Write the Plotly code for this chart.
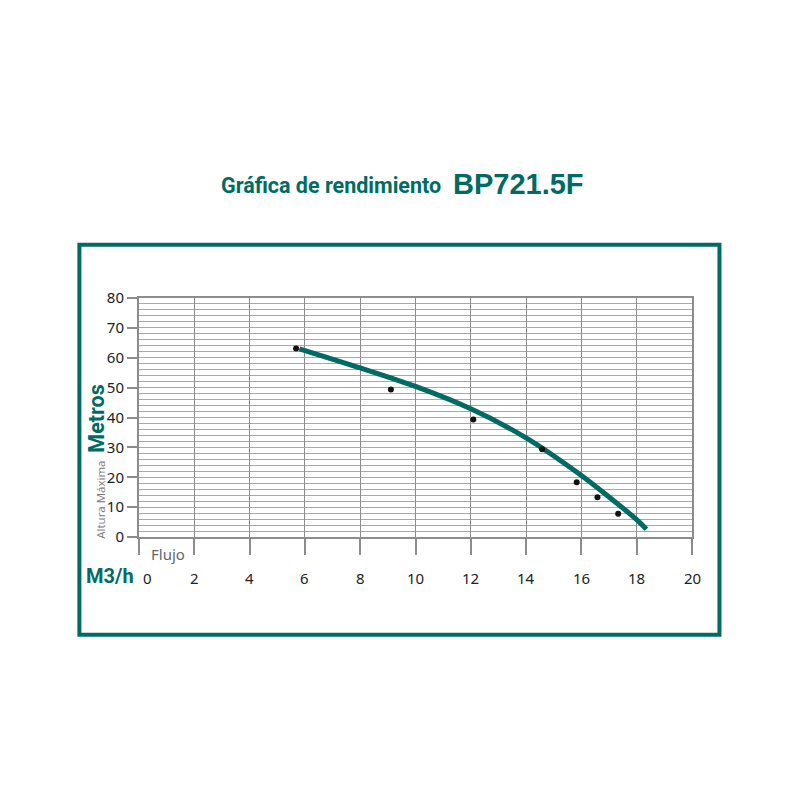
import plotly.graph_objects as go

# ---- data ----
curve_flow = [5.8, 8, 10, 12, 14, 16, 17, 18, 18.35]
curve_head = [63, 56.6, 50.4, 42.9, 33.2, 20.6, 13.4, 5.8, 2.6]
pt_flow = [5.68, 9.11, 12.09, 14.58, 15.83, 16.58, 17.33]
pt_head = [63.1, 49.4, 39.3, 29.4, 18.3, 13.3, 7.8]
x_ticks = [0, 2, 4, 6, 8, 10, 12, 14, 16, 18, 20]
y_ticks = [0, 10, 20, 30, 40, 50, 60, 70, 80]

TEAL = "#006b63"
GRID = "#a8a8a8"
AXIS = "#8c8c8c"
OFF = 8  # page body margin
W, H = 784, 784
L, R, T, B = 138.7 - OFF, 692.5 - OFF, 297.7 - OFF, 536.7 - OFF


def px(x):
    return (x - OFF - L) / (R - L)


def py(y):
    return (B - (y - OFF)) / (B - T)


fig = go.Figure()
fig.add_trace(go.Scatter(x=curve_flow, y=curve_head, mode="lines",
                         line=dict(color=TEAL, width=5, shape="spline", smoothing=0.8),
                         hoverinfo="skip", showlegend=False))
fig.add_trace(go.Scatter(x=pt_flow, y=pt_head, mode="markers",
                         marker=dict(color="#111111", size=6),
                         showlegend=False))

ann = []
# title
ann.append(dict(text="<b>Gráfica de rendimiento</b>", x=px(443), y=py(185), xref="paper", yref="paper",
                xanchor="right", yanchor="middle", showarrow=False,
                font=dict(family="Roboto, sans-serif", size=21.5, color=TEAL)))
ann.append(dict(text="<b>BP721.5F</b>", x=px(451), y=py(184), xref="paper", yref="paper",
                xanchor="left", yanchor="middle", showarrow=False,
                font=dict(family="Liberation Sans, Arial, sans-serif", size=29, color=TEAL)))
# axis labels
ann.append(dict(text="<b>Metros</b>", x=px(96), y=py(418), xref="paper", yref="paper",
                textangle=-90, showarrow=False, xanchor="center", yanchor="middle",
                font=dict(family="Roboto, sans-serif", size=21.5, color=TEAL)))
ann.append(dict(text="Altura Máxima", x=px(100), y=py(499), xref="paper", yref="paper",
                textangle=-90, showarrow=False, xanchor="center", yanchor="middle",
                font=dict(family="Open Sans, sans-serif", size=11.5, color="#777777")))
ann.append(dict(text="Flujo", x=px(168), y=py(554), xref="paper", yref="paper",
                showarrow=False, xanchor="center", yanchor="middle",
                font=dict(family="Noto Sans, sans-serif", size=15, color="#666666")))
ann.append(dict(text="<b>M3/h</b>", x=px(110), y=py(576), xref="paper", yref="paper",
                showarrow=False, xanchor="center", yanchor="middle",
                font=dict(family="Roboto, sans-serif", size=20, color=TEAL)))
for v in x_ticks:
    ann.append(dict(text=str(v), x=v, xref="x", y=py(578), yref="paper",
                    xshift=8 if v == 0 else 0, showarrow=False,
                    xanchor="center", yanchor="middle",
                    font=dict(family="Noto Sans, sans-serif", size=15, color="#222222")))

fig.update_layout(
    width=W, height=H,
    margin=dict(l=L, r=W - R, t=T, b=H - B, pad=0),
    paper_bgcolor="white", plot_bgcolor="white",
    annotations=ann,
    shapes=[dict(type="rect", xref="paper", yref="paper",
                 x0=px(79), x1=px(720), y0=py(244.5), y1=py(634.5),
                 line=dict(color=TEAL, width=4))],
    xaxis=dict(range=[0, 20], tickvals=x_ticks, showticklabels=False,
               showgrid=True, gridcolor=AXIS, gridwidth=1.2,
               ticks="outside", ticklen=16, tickwidth=2, tickcolor=AXIS,
               showline=True, linecolor=AXIS, linewidth=2, mirror=True,
               zeroline=False, fixedrange=True),
    yaxis=dict(range=[0, 80], tickvals=y_ticks, showticklabels=True,
               ticks="outside", ticklen=10, tickwidth=2, tickcolor=AXIS,
               tickfont=dict(family="Noto Sans, sans-serif", size=15, color="#222222"),
               showgrid=True, gridcolor=GRID, gridwidth=1,
               minor=dict(dtick=2, showgrid=True, gridcolor=GRID, gridwidth=1),
               showline=True, linecolor=AXIS, linewidth=2, mirror=True,
               zeroline=False, fixedrange=True),
)

fig.write_html("out.html")
